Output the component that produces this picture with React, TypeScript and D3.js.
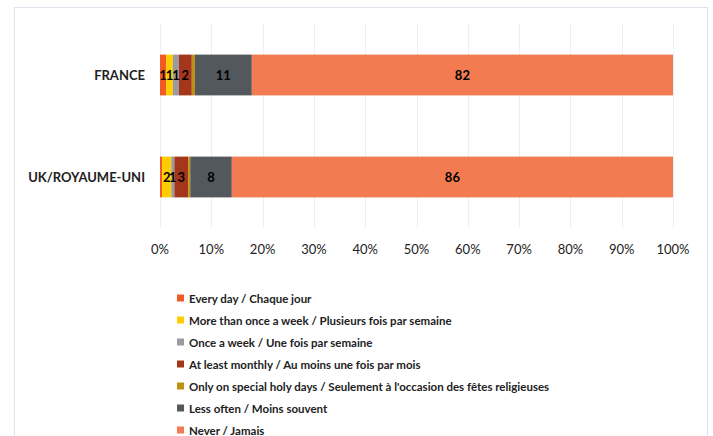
import { useEffect, useRef } from 'react';
import * as d3 from 'd3';

const countries = ['FRANCE', 'UK/ROYAUME-UNI'];

const seriesNames = [
  'Every day / Chaque jour',
  'More than once a week / Plusieurs fois par semaine',
  'Once a week / Une fois par semaine',
  'At least monthly / Au moins une fois par mois',
  "Only on special holy days / Seulement à l'occasion des fêtes religieuses",
  'Less often / Moins souvent',
  'Never / Jamais',
];

const seriesColors = ['#F15A24', '#FFCC00', '#9B9B9F', '#A3361B', '#BF9010', '#53585C', '#F37B51'];

// share per country, in series order
const franceValues = [1.2, 1.3, 1.2, 2.5, 0.6, 11.1, 82.1];
const ukValues = [0.4, 1.8, 0.6, 2.7, 0.4, 8.1, 86];

// data labels as shown (empty = hidden)
const franceLabels = ['1', '1', '1', '2', '', '11', '82'];
const ukLabels = ['', '2', '1', '3', '', '8', '86'];

const tickValues = [0, 10, 20, 30, 40, 50, 60, 70, 80, 90, 100];

const W = 713;
const H = 436;
const FONT = 'Lato, "Open Sans", sans-serif';

export default function App() {
  const svgRef = useRef<SVGSVGElement>(null);

  useEffect(() => {
    if (!svgRef.current) return;
    const svg = d3.select(svgRef.current);
    svg.selectAll('*').remove();

    // outer frame
    svg
      .append('rect')
      .attr('x', 14.5)
      .attr('y', 7.5)
      .attr('width', 693)
      .attr('height', 440)
      .attr('fill', '#fff')
      .attr('stroke', '#DDE3EC')
      .attr('stroke-width', 1);

    const x = d3.scaleLinear().domain([0, 100]).range([160, 673]);
    const y = d3.scaleBand<string>().domain(countries).range([24, 228]).paddingInner(0.6).paddingOuter(0.3);

    // gridlines
    svg
      .append('g')
      .selectAll('line')
      .data(tickValues)
      .enter()
      .append('line')
      .attr('x1', (d) => Math.round(x(d)) + 0.5)
      .attr('x2', (d) => Math.round(x(d)) + 0.5)
      .attr('y1', 24)
      .attr('y2', 228)
      .attr('stroke', '#EDEFF3')
      .attr('stroke-width', 1);

    const rows = [
      { country: countries[0], values: franceValues, labels: franceLabels },
      { country: countries[1], values: ukValues, labels: ukLabels },
    ];

    rows.forEach((row) => {
      const g = svg.append('g');
      const starts = d3.cumsum([0, ...row.values]);
      const segs = row.values.map((v, i) => ({ v, i, x0: starts[i], x1: starts[i] + v, label: row.labels[i] }));
      const by = y(row.country) ?? 0;
      const bh = y.bandwidth();

      g.selectAll('rect')
        .data(segs)
        .enter()
        .append('rect')
        .attr('x', (d) => x(d.x0))
        .attr('width', (d) => x(d.x1) - x(d.x0))
        .attr('y', by)
        .attr('height', bh)
        .attr('fill', (d) => seriesColors[d.i]);

      g.selectAll('text')
        .data(segs.filter((d) => d.label !== ''))
        .enter()
        .append('text')
        .attr('x', (d) => (x(d.x0) + x(d.x1)) / 2)
        .attr('y', by + bh / 2)
        .attr('text-anchor', 'middle')
        .attr('dominant-baseline', 'central')
        .style('font-family', FONT)
        .style('font-weight', 'bold')
        .style('font-size', '13px')
        .style('fill', '#000')
        .text((d) => d.label);

      svg
        .append('text')
        .attr('x', 145)
        .attr('y', by + bh / 2)
        .attr('text-anchor', 'end')
        .attr('dominant-baseline', 'central')
        .style('font-family', FONT)
        .style('font-weight', 'bold')
        .style('font-size', '13px')
        .style('fill', '#222')
        .text(row.country);
    });

    // x axis labels
    svg
      .append('g')
      .selectAll('text')
      .data(tickValues)
      .enter()
      .append('text')
      .attr('x', (d) => x(d))
      .attr('y', 249)
      .attr('text-anchor', 'middle')
      .attr('dominant-baseline', 'central')
      .style('font-family', FONT)
      .style('font-size', '13px')
      .style('fill', '#222')
      .text((d) => `${d}%`);

    // legend
    const legend = svg
      .append('g')
      .selectAll('g')
      .data(seriesNames)
      .enter()
      .append('g')
      .attr('transform', (d, i) => `translate(177, ${298 + i * 22})`);

    legend
      .append('rect')
      .attr('x', 0)
      .attr('y', -3.5)
      .attr('width', 7)
      .attr('height', 7)
      .attr('fill', (d, i) => seriesColors[i]);

    legend
      .append('text')
      .attr('x', 12)
      .attr('y', 0)
      .attr('dominant-baseline', 'central')
      .style('font-family', FONT)
      .style('font-weight', 'bold')
      .style('font-size', '11.5px')
      .style('fill', '#222')
      .text((d) => d);
  }, []);

  return (
    <svg
      ref={svgRef}
      width={W}
      height={H}
      style={{ position: 'absolute', left: 0, top: 0, display: 'block' }}
    />
  );
}
